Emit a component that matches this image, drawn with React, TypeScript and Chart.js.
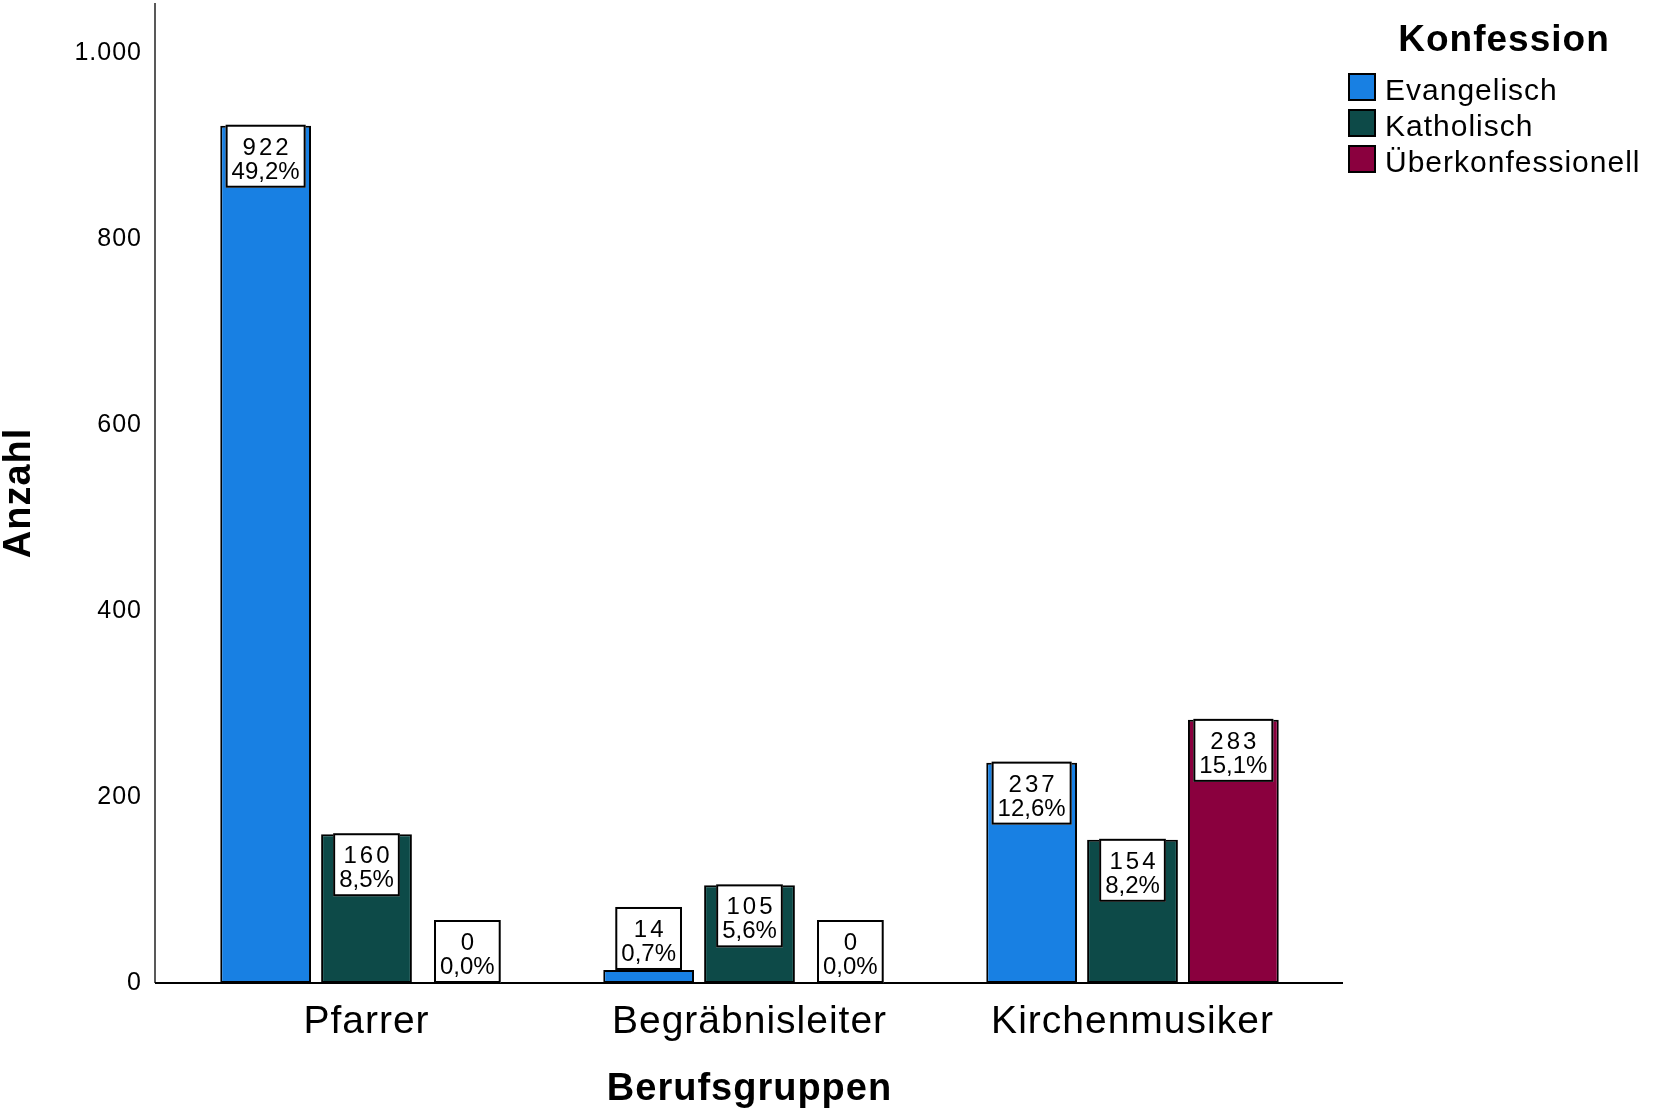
import React, { useEffect, useRef } from "react";
import { Chart, registerables, Plugin } from "chart.js";

Chart.register(...registerables);

const categories = ["Pfarrer", "Begräbnisleiter", "Kirchenmusiker"];
const seriesNames = ["Evangelisch", "Katholisch", "Überkonfessionell"];
const evangelisch = [922, 14, 237];
const katholisch = [160, 105, 154];
const ueberkonfessionell = [0, 0, 283];
const yTicks = [0, 200, 400, 600, 800, 1000];
const colors = ["#1880e3", "#0d4a48", "#8a003e"];

const FONT = "'Liberation Sans', Arial, Helvetica, sans-serif";

const allValues = [...evangelisch, ...katholisch, ...ueberkonfessionell];
const total = allValues.reduce((a, b) => a + b, 0);

// German number format: 1000 -> "1.000"
const formatTick = (value: number) =>
  String(value).replace(/\B(?=(\d{3})+(?!\d))/g, ".");

// the SPSS export uses a slightly wider text run than Liberation Sans
const textSpacing: Plugin<"bar"> = {
  id: "textSpacing",
  beforeDraw(chart) {
    (chart.ctx as any).letterSpacing = "1px";
  },
};

// Axis lines extend a bit past the category band, like the SPSS output
const axisLines: Plugin<"bar"> = {
  id: "axisLines",
  beforeDatasetsDraw(chart) {
    const { ctx, chartArea } = chart;
    ctx.save();
    ctx.strokeStyle = "#222";
    ctx.lineWidth = 1.5;
    ctx.beginPath();
    ctx.moveTo(chartArea.left - 20, chartArea.top);
    ctx.lineTo(chartArea.left - 20, chartArea.bottom);
    ctx.stroke();
    ctx.strokeStyle = "#000";
    ctx.lineWidth = 2;
    ctx.beginPath();
    ctx.moveTo(chartArea.left - 20, chartArea.bottom);
    ctx.lineTo(chartArea.right + 19, chartArea.bottom);
    ctx.stroke();
    ctx.restore();
  },
};

// Boxed labels: count (spaced digits) and share of total
const valueLabels: Plugin<"bar"> = {
  id: "valueLabels",
  afterDatasetsDraw(chart) {
    const ctx = chart.ctx as any;
    ctx.save();
    chart.data.datasets.forEach((ds, di) => {
      const meta = chart.getDatasetMeta(di);
      meta.data.forEach((bar: any, i: number) => {
        const v = ds.data[i] as number;
        const count = String(v);
        const pct = ((v / total) * 100).toFixed(1).replace(".", ",") + "%";
        ctx.font = `24px ${FONT}`;
        ctx.letterSpacing = "3px";
        const w1 = ctx.measureText(count).width - 3;
        ctx.letterSpacing = "0px";
        const w2 = ctx.measureText(pct).width;
        const boxW = Math.max(w1, w2) + 12;
        const boxH = 63;
        const { x, y, base } = bar.getProps(["x", "y", "base"], true);
        const top = base - y >= boxH ? y - 1 : y - boxH;
        const left = x - boxW / 2;

        ctx.fillStyle = "#fff";
        ctx.fillRect(left, top, boxW, boxH);
        ctx.strokeStyle = "#000";
        ctx.lineWidth = 2;
        ctx.strokeRect(left + 1, top + 1, boxW - 2, boxH - 2);

        ctx.fillStyle = "#000";
        ctx.textAlign = "left";
        ctx.textBaseline = "alphabetic";
        ctx.letterSpacing = "3px";
        ctx.fillText(count, x - w1 / 2, top + 30);
        ctx.letterSpacing = "0px";
        ctx.fillText(pct, x - w2 / 2, top + 54);
      });
    });
    ctx.restore();
  },
};

const legendBox: Plugin<"bar"> = {
  id: "legendBox",
  afterDraw(chart) {
    const ctx = chart.ctx as any;
    const { chartArea } = chart;
    const left = chartArea.right + 24;
    ctx.save();
    ctx.letterSpacing = "1px";
    ctx.fillStyle = "#000";
    ctx.font = `bold 37px ${FONT}`;
    ctx.textAlign = "center";
    ctx.textBaseline = "alphabetic";
    ctx.fillText("Konfession", left + 156, 51);
    ctx.font = `30px ${FONT}`;
    ctx.textAlign = "left";
    seriesNames.forEach((name, i) => {
      const y = 73 + i * 36;
      ctx.fillStyle = colors[i];
      ctx.fillRect(left, y, 28, 28);
      ctx.strokeStyle = "#000";
      ctx.lineWidth = 2;
      ctx.strokeRect(left + 1, y + 1, 26, 26);
      ctx.fillStyle = "#000";
      ctx.fillText(name, left + 37, y + 27);
    });
    ctx.restore();
  },
};

export default function App() {
  const canvasRef = useRef<HTMLCanvasElement | null>(null);
  const chartRef = useRef<Chart | null>(null);

  useEffect(() => {
    document.body.style.margin = "0";
    if (!canvasRef.current) return;
    if (chartRef.current) chartRef.current.destroy();

    const series = [evangelisch, katholisch, ueberkonfessionell];

    chartRef.current = new Chart(canvasRef.current, {
      type: "bar",
      data: {
        labels: categories,
        datasets: series.map((values, i) => ({
          label: seriesNames[i],
          data: values,
          backgroundColor: colors[i],
          borderColor: "#000",
          borderWidth: 2,
          borderSkipped: false,
          categoryPercentage: 0.79,
          barPercentage: 0.9,
        })),
      },
      options: {
        animation: false,
        responsive: true,
        maintainAspectRatio: false,
        layout: { padding: { top: 3, right: 330, left: 0, bottom: 0 } },
        plugins: {
          legend: { display: false },
          tooltip: { enabled: false },
        },
        scales: {
          x: {
            grid: { display: false, drawTicks: false },
            border: { display: false },
            ticks: {
              color: "#000",
              padding: 16,
              font: { family: FONT, size: 39 },
            },
            title: {
              display: true,
              text: "Berufsgruppen",
              color: "#000",
              font: { family: FONT, size: 38, weight: "bold" },
              padding: { top: 0, bottom: 4 },
            },
            afterFit: (scale: any) => {
              scale.height = 133;
              scale.paddingLeft = 0;
              scale.paddingRight = 0;
            },
          },
          y: {
            min: 0,
            max: 1054,
            grid: { display: false, drawTicks: false },
            border: { display: false },
            afterBuildTicks: (scale: any) => {
              scale.ticks = yTicks.map((value) => ({ value }));
            },
            ticks: {
              color: "#000",
              padding: 33,
              font: { family: FONT, size: 25 },
              callback: (value) => formatTick(Number(value)),
            },
            title: {
              display: true,
              text: "Anzahl",
              color: "#000",
              font: { family: FONT, size: 38, weight: "bold", lineHeight: 1 },
              padding: { top: 1, bottom: 0 },
            },
            afterFit: (scale: any) => {
              scale.width = 175;
              scale.paddingTop = 0;
              scale.paddingBottom = 0;
            },
          },
        },
      },
      plugins: [textSpacing, axisLines, valueLabels, legendBox],
    });

    return () => {
      if (chartRef.current) {
        chartRef.current.destroy();
        chartRef.current = null;
      }
    };
  }, []);

  return (
    <div style={{ position: "relative", width: "1654px", height: "1116px", background: "#fff" }}>
      <canvas ref={canvasRef} />
    </div>
  );
}
